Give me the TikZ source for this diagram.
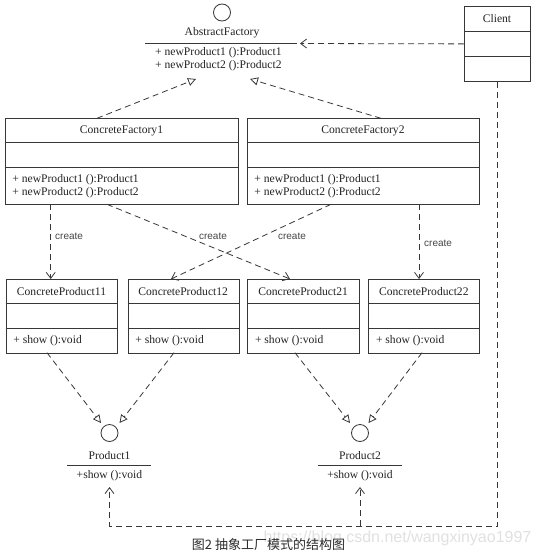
\documentclass[tikz,border=0pt]{standalone}
\usepackage{fontspec}
\setmainfont{Liberation Serif}
\newfontfamily\capfont{Noto Sans CJK SC}
\newfontfamily\labfont{Liberation Sans}
\usetikzlibrary{arrows.meta,calc}
\definecolor{linec}{RGB}{55,55,55}
\definecolor{txtc}{RGB}{35,35,35}
\definecolor{labc}{RGB}{70,70,70}
\definecolor{capc}{RGB}{45,45,45}
\definecolor{wmc}{RGB}{225,225,225}

\tikzset{
  ln/.style={line width=0.8pt, draw=linec},
  clsbox/.style={draw=linec, line width=0.8pt, rectangle, inner sep=0pt},
  clstext/.style={font=\fontsize{11.6}{13}\selectfont, inner sep=0pt, text=txtc},
  dsh/.style={draw=linec, line width=0.8pt, dash pattern=on 6pt off 4pt},
  realize/.style={dsh, -{Triangle[open, length=8pt, width=8pt]}},
  depend/.style={dsh, -{Straight Barb[length=6pt, width=9pt]}},
  lab/.style={font=\labfont\fontsize{10}{12}\selectfont, text=labc, inner sep=0pt},
  iface/.style={circle, draw=linec, line width=0.8pt, minimum size=17pt, inner sep=0pt},
}

% #1 name, #2 left, #3 top, #4 width, #5 first divider, #6 second divider, #7 bottom, #8 title, #9 methods
\newcommand{\umlcls}[9]{%
  \node[clsbox, anchor=north west, minimum width=#4pt, minimum height=#7pt-#3pt] (#1) at (#2,#3) {};
  \draw[ln] (#2,#5) -- ++(#4,0);
  \draw[ln] (#2,#6) -- ++(#4,0);
  \node[clstext] (#1-t) at ({#2+#4/2},{(#3+#5)/2}) {#8};
  \node[clstext, anchor=west, align=left] (#1-m) at ({#2+7.5},{(#6+#7)/2}) {#9};
}

\begin{document}
\begin{tikzpicture}[x=1pt, y=-1pt]
\fill[white] (0,0) rectangle (540,557);
\useasboundingbox (0,0) rectangle (540,557);

% AbstractFactory
\node[iface] (af) at (222,12.5) {};
\node[clstext] (af-t) at (222,33) {AbstractFactory};
\draw[ln] (145,43) -- (297,43);
\node[clstext, anchor=west, align=left] (af-m) at (155,59.5) {+ newProduct1 ():Product1\\+ newProduct2 ():Product2};

% Client
\umlcls{client}{464}{6}{66}{31.7}{56.7}{81}{Client}{}

% Concrete factories
\umlcls{cf1}{4.7}{118.3}{233.6}{142.7}{167.3}{204.3}{ConcreteFactory1}{+ newProduct1 ():Product1\\+ newProduct2 ():Product2}
\umlcls{cf2}{246.7}{118.3}{232.6}{142.7}{167.3}{204.3}{ConcreteFactory2}{+ newProduct1 ():Product1\\+ newProduct2 ():Product2}

% Concrete products
\umlcls{cp11}{5.7}{279}{111.6}{303.3}{328.3}{352.7}{ConcreteProduct11}{+ show ():void}
\umlcls{cp12}{127.7}{279}{111}{303.3}{328.3}{352.7}{ConcreteProduct12}{+ show ():void}
\umlcls{cp21}{247.3}{279}{111.7}{303.3}{328.3}{352.7}{ConcreteProduct21}{+ show ():void}
\umlcls{cp22}{368.3}{279}{111}{303.3}{328.3}{352.7}{ConcreteProduct22}{+ show ():void}

% Product interfaces
\node[iface] (p1) at (109.5,433) {};
\node[clstext] (p1-t) at (109.5,456) {Product1};
\draw[ln] (67,465) -- (151,465);
\node[clstext] (p1-m) at (109.5,476) {+show ():void};

\node[iface] (p2) at (360,433) {};
\node[clstext] (p2-t) at (360,456) {Product2};
\draw[ln] (318,465) -- (402,465);
\node[clstext] (p2-m) at (360,476) {+show ():void};

% connector end points
\coordinate (af-l) at (196,79);
\coordinate (af-r) at (250,79);
\coordinate (af-dep) at (300,43.5);
\coordinate (cf1-top) at (97,118.3);
\coordinate (cf2-top) at (381,118.3);
\coordinate (cf1-b1) at (50.7,204.3);
\coordinate (cf1-b2) at (107,204.3);
\coordinate (cf2-b1) at (331,204.3);
\coordinate (cf2-b2) at (419,204.3);
\coordinate (cp11-in) at (50.7,279);
\coordinate (cp12-in) at (171,279);
\coordinate (cp21-in) at (290,279);
\coordinate (cp22-in) at (419,279);
\coordinate (cp11-out) at (47,352.7);
\coordinate (cp12-out) at (174,352.7);
\coordinate (cp21-out) at (295,352.7);
\coordinate (cp22-out) at (422,352.7);
\coordinate (p1-a) at (101,423);
\coordinate (p1-b) at (119.5,423);
\coordinate (p2-a) at (350,423);
\coordinate (p2-b) at (368.5,423);
\coordinate (p1-in) at (109.5,487);
\coordinate (p2-in) at (360,487);
\coordinate (bus) at (497,526);

% realization: factories -> AbstractFactory
\draw[realize] (cf1-top) -- (af-l);
\draw[realize] (cf2-top) -- (af-r);

% client -> AbstractFactory
\draw[depend] (client.west) -- (af-dep);

% create
\draw[depend] (cf1-b1) -- (cp11-in);
\draw[depend] (cf1-b2) -- (cp21-in);
\draw[depend] (cf2-b1) -- (cp12-in);
\draw[depend] (cf2-b2) -- (cp22-in);
\node[lab, anchor=west] (lc1) at (55,236) {create};
\node[lab] (lc2) at (213,236) {create};
\node[lab] (lc3) at (292,236) {create};
\node[lab, anchor=west] (lc4) at (424,243) {create};

% realization: products -> interfaces
\draw[realize] (cp11-out) -- (p1-a);
\draw[realize] (cp12-out) -- (p1-b);
\draw[realize] (cp21-out) -- (p2-a);
\draw[realize] (cp22-out) -- (p2-b);

% client -> products
\draw[depend] (client.south) |- (p1-in |- bus) -- (p1-in);
\draw[depend] (p2-in |- bus) -- (p2-in);

% caption and watermark
\node[font=\labfont\fontsize{16}{18}\selectfont, text=wmc, inner sep=0pt] (wm) at (397.5,538) {https://blog.csdn.net/wangxinyao1997};
\node[font=\capfont\fontsize{13}{15}\selectfont, text=capc, inner sep=0pt] (cap) at (268.5,545) {图2 抽象工厂模式的结构图};
\end{tikzpicture}
\end{document}
